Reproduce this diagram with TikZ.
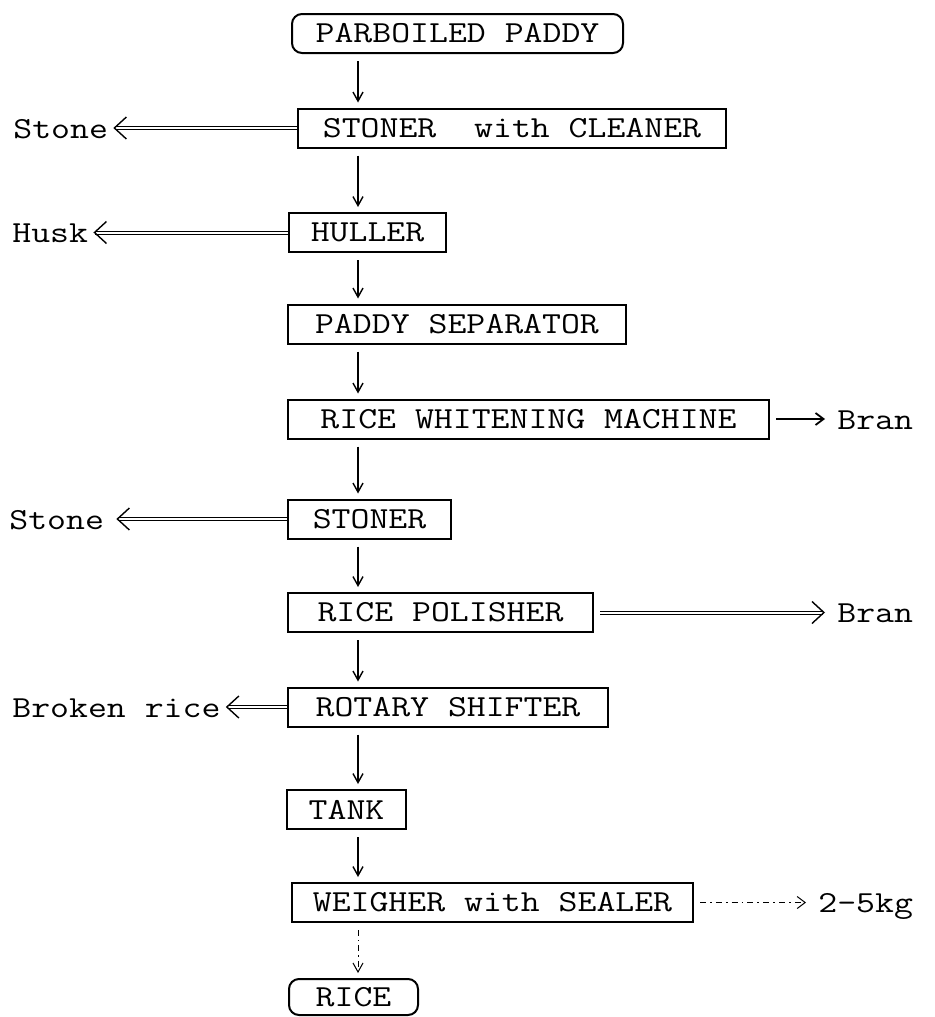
\documentclass[tikz,border=0pt]{standalone}
\usepackage{fontspec}
\newfontfamily\typefont{Latin Modern Mono}[FakeStretch=1.2]
\usetikzlibrary{arrows.meta}

\tikzset{
  stepbox/.style={draw, line width=1pt, inner sep=0pt, minimum height=19.5pt,
    anchor=west, font=\typefont\fontsize{15.3}{18}\selectfont},
  endbox/.style={stepbox, rounded corners=5pt},
  outlabel/.style={inner sep=0pt, anchor=west, text height=10pt, text depth=0pt,
    font=\typefont\fontsize{15.3}{18}\selectfont},
  flow/.style={-{Straight Barb[length=4.5pt,width=5pt]}, line width=0.7pt,
    shorten <=3.5pt, shorten >=2.5pt},
  waste/.style={double, double distance=1pt, line width=0.5pt,
    -{Straight Barb[length=6pt,width=11pt,line width=0.7pt]}, shorten >=2.5pt},
  side/.style={-{Straight Barb[length=4pt,width=6pt]}, line width=0.9pt,
    shorten <=3pt, shorten >=6pt}
}

\begin{document}
\begin{tikzpicture}[x=0.5pt, y=-0.5pt]
  \useasboundingbox (0,0) rectangle (934,1017);
  \coordinate (spine) at (358,0);
  % the milling line
  \node[endbox, minimum width=165.5pt] (parboiled) at (291,33.5) {PARBOILED PADDY};
  \foreach \nm/\x/\y/\w/\txt in {%
    cleaner/297/128/214/STONER\ \ with CLEANER,
    huller/288/232.5/78.5/HULLER,
    separator/287/324/169/PADDY SEPARATOR,
    whitener/287/419/240.5/RICE WHITENING MACHINE,
    stoner/287/519/81.5/STONER,
    polisher/287/612.5/152.5/RICE POLISHER,
    shifter/287/707/160/ROTARY SHIFTER,
    tank/286/809.5/59.5/TANK,
    weigher/291/902.5/200.5/WEIGHER with SEALER} {
    \node[stepbox, minimum width=\w pt] (\nm) at (\x,\y) {\txt};
  }
  \node[endbox, minimum width=64.5pt, minimum height=18pt] (rice) at (288,997) {RICE};
  \foreach \a/\b in {parboiled/cleaner, cleaner/huller, huller/separator,
    separator/whitener, whitener/stoner, stoner/polisher, polisher/shifter,
    shifter/tank, tank/weigher}
    \draw[flow] (\a.south -| spine) -- (\b.north -| spine);
  \draw[flow, dash dot, line width=0.5pt] (weigher.south -| spine) -- (rice.north -| spine);
  % by-products
  \node[outlabel] (stone1) at (13,128) {Stone};
  \node[outlabel] (husk) at (12,232.5) {Husk};
  \node[outlabel] (stone2) at (9,519) {Stone};
  \node[outlabel] (broken) at (12,707) {Broken rice};
  \node[outlabel] (bran1) at (837,419) {Bran};
  \node[outlabel] (bran2) at (837,612.5) {Bran};
  \node[outlabel] (pack) at (818,902.5) {2-5kg};
  \draw[waste] (cleaner.west) -- (stone1.east);
  \draw[waste] (huller.west) -- (husk.east);
  \draw[waste, shorten >=6pt] (stoner.west) -- (stone2.east);
  \draw[waste] (shifter.west) -- (broken.east);
  \draw[waste, shorten <=3pt, shorten >=6pt] (polisher.east) -- (bran2.west);
  \draw[side] (whitener.east) -- (bran1.west);
  \draw[side, dash dot, line width=0.5pt] (weigher.east) -- (pack.west);
\end{tikzpicture}
\end{document}
